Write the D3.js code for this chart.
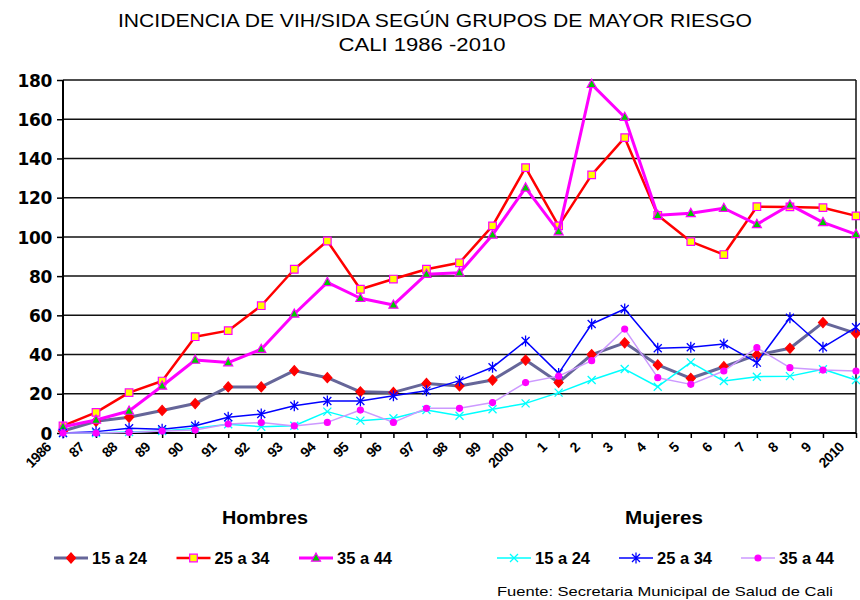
<!DOCTYPE html>
<html>
<head>
<meta charset="utf-8">
<script src="https://cdn.jsdelivr.net/npm/d3@7"></script>
<style>
  body { margin: 0; background: #fff; }
  text { font-family: "Liberation Sans", Arial, sans-serif; }
</style>
</head>
<body>
<div id="chart"></div>
<script>
var width = 860,
	height = 600;
var margin = {
  top: 80,
  right: 4,
  bottom: 167,
  left: 63
};
var plotW = width - margin.left - margin.right,
	plotH = height - margin.top - margin.bottom;

///////////////////////////////////////////////////////////////////////////
//////////////////////////////// The data /////////////////////////////////
///////////////////////////////////////////////////////////////////////////

var years = [1986,1987,1988,1989,1990,1991,1992,1993,1994,1995,1996,1997,1998,
	1999,2000,2001,2002,2003,2004,2005,2006,2007,2008,2009,2010];
var yearLabels = ["1986","87","88","89","90","91","92","93","94","95","96","97","98",
	"99","2000","1","2","3","4","5","6","7","8","9","2010"];
var yTicks = [0,20,40,60,80,100,120,140,160,180];

//Hombres
var hombres15 = [1,6,8,11.5,15,23.5,23.5,31.8,28.2,21,20.7,25.3,24,27,37.2,25.8,40,46,34.7,27.9,33.8,39.8,43.2,56.3,50.8];
var hombres25 = [3.6,10.5,20.6,26.5,49.1,52.2,64.9,83.5,97.9,73.3,78.5,83.5,86.8,105.6,135.3,105.6,131.6,150.6,111,97.6,91,115.4,115.3,114.9,110.7];
var hombres35 = [3.2,6.6,11.2,24,37.2,35.9,42.7,60.7,76.8,68.7,65.3,81,81.7,101,125,102.7,177.8,161,111,112,114.6,106.4,116.3,107.4,101.3];
//Mujeres
var mujeres15 = [0,0,0.5,1,2.4,4.5,3.2,3.7,10.9,6.3,7.5,11.7,8.8,12.1,15.1,20.6,27,32.6,23.6,36,26.5,28.7,29,32.5,27];
var mujeres25 = [0,0.7,2.4,1.9,3.7,8,9.7,13.9,16.3,16.3,19,21.6,26.7,33.5,46.9,30.4,55.6,63.2,43.2,43.7,45.4,35.9,58.8,43.7,53.9];
var mujeres35 = [0,0,0.3,1,1.5,4.6,5.3,3.6,5.4,11.7,5.4,12.6,12.6,15.5,25.7,29,36.9,53,28.2,24.8,31.6,43.5,33.3,32.1,31.6];

var ageLabels = ["15 a 24", "25 a 34", "35 a 44"];

var series = [
	{group: "Hombres", label: ageLabels[0], values: hombres15, stroke: "#666699", sw: 3,   marker: "diamond",  fill: "#ff0000", mstroke: "#ff0000"},
	{group: "Hombres", label: ageLabels[1], values: hombres25, stroke: "#ff0000", sw: 2.5, marker: "square",   fill: "#ffff00", mstroke: "#ff00ff"},
	{group: "Hombres", label: ageLabels[2], values: hombres35, stroke: "#ff00ff", sw: 3,   marker: "triangle", fill: "#00cc00", mstroke: "#ff00ff"},
	{group: "Mujeres", label: ageLabels[0], values: mujeres15, stroke: "#00ffff", sw: 1.5, marker: "x",        fill: "none",    mstroke: "#00ffff"},
	{group: "Mujeres", label: ageLabels[1], values: mujeres25, stroke: "#0000ff", sw: 1.5, marker: "star",     fill: "none",    mstroke: "#0000ff"},
	{group: "Mujeres", label: ageLabels[2], values: mujeres35, stroke: "#cc99ff", sw: 1.5, marker: "circle",   fill: "#ff00ff", mstroke: "#ff00ff"}
];

///////////////////////////////////////////////////////////////////////////
///////////////////////////////// Set up //////////////////////////////////
///////////////////////////////////////////////////////////////////////////

var svg = d3.select("#chart").append("svg")
	.attr("width", width)
	.attr("height", height);

var g = svg.append("g")
	.attr("transform", "translate(" + margin.left + "," + margin.top + ")");

var xScale = d3.scalePoint()
	.domain(years)
	.range([0, plotW]);
var yScale = d3.scaleLinear()
	.domain([0, 180])
	.range([plotH, 0]);

//Titles
svg.append("text")
	.attr("x", 435).attr("y", 27)
	.attr("text-anchor", "middle")
	.attr("textLength", 634).attr("lengthAdjust", "spacingAndGlyphs")
	.style("font-size", "18px")
	.text("INCIDENCIA DE VIH/SIDA SEGÚN GRUPOS DE MAYOR RIESGO");
svg.append("text")
	.attr("x", 422).attr("y", 51)
	.attr("text-anchor", "middle")
	.attr("textLength", 167).attr("lengthAdjust", "spacingAndGlyphs")
	.style("font-size", "18px")
	.text("CALI 1986 -2010");

///////////////////////////////////////////////////////////////////////////
///////////////////////////// Grid and axes ///////////////////////////////
///////////////////////////////////////////////////////////////////////////

g.selectAll(".grid")
	.data(yTicks.slice(1))
	.enter().append("line")
	.attr("class", "grid")
	.attr("x1", 0).attr("x2", plotW)
	.attr("y1", function(d) { return yScale(d); })
	.attr("y2", function(d) { return yScale(d); })
	.style("stroke", "#111")
	.style("stroke-width", 1.5);

//right border
g.append("line")
	.attr("x1", plotW).attr("x2", plotW)
	.attr("y1", 0).attr("y2", plotH)
	.style("stroke", "#111")
	.style("stroke-width", 1.5);

var yAxis = g.append("g")
	.call(d3.axisLeft(yScale).tickValues(yTicks).tickSize(6).tickPadding(5));
yAxis.select(".domain").attr("stroke-width", 2).attr("d", "M0," + plotH + "V0");
yAxis.selectAll(".tick line").attr("stroke-width", 1.5);
yAxis.selectAll(".tick text")
	.attr("dy", "0.36em")
	.style("font-family", "'DejaVu Sans', sans-serif")
	.style("font-weight", "bold")
	.style("font-size", "17px")
	.style("letter-spacing", "-0.3px")
	.style("fill", "#000");

var xAxis = g.append("g")
	.attr("transform", "translate(0," + plotH + ")")
	.call(d3.axisBottom(xScale).tickSize(5).tickFormat(""));
xAxis.select(".domain").attr("stroke-width", 2).attr("d", "M0,0H" + plotW);
xAxis.selectAll(".tick line").attr("stroke-width", 1.5);
xAxis.selectAll(".tick text").remove();

//Rotated year labels, rotation done with CSS
xAxis.selectAll(".year-label")
	.data(years)
	.enter().append("text")
	.attr("class", "year-label")
	.attr("x", 0).attr("y", 0)
	.attr("text-anchor", "end")
	.style("transform", function(d) { return "translate(" + (xScale(d) - 11) + "px,15px) rotate(-45deg)"; })
	.style("font-weight", "bold")
	.style("font-size", "14px")
	.style("letter-spacing", "-0.5px")
	.style("fill", "#000")
	.text(function(d, i) { return yearLabels[i]; });

///////////////////////////////////////////////////////////////////////////
//////////////////////////////// Markers //////////////////////////////////
///////////////////////////////////////////////////////////////////////////

function markerPath(type) {
	if (type === "diamond") return "M0,-5L4.5,0L0,5L-4.5,0Z";
	if (type === "square") return "M-3.8,-3.8H3.8V3.8H-3.8Z";
	if (type === "triangle") return "M0,-5L4.5,3.2H-4.5Z";
	if (type === "circle") return d3.symbol(d3.symbolCircle, 28)();
	if (type === "x") return "M-4,-4L4,4M-4,4L4,-4";
	//asterisk
	return "M-4,-4L4,4M-4,4L4,-4M0,-5.5V5.5";
}

function addMarker(sel, s) {
	sel.append("path")
		.attr("d", markerPath(s.marker))
		.style("fill", s.fill)
		.style("stroke", s.mstroke)
		.style("stroke-width", s.marker === "x" || s.marker === "star" ? 1.3 : 1.2);
}

///////////////////////////////////////////////////////////////////////////
///////////////////////////////// Lines ///////////////////////////////////
///////////////////////////////////////////////////////////////////////////

var line = d3.line()
	.x(function(d, i) { return xScale(years[i]); })
	.y(function(d) { return yScale(d); });

series.forEach(function(s) {
	var sg = g.append("g").attr("class", "series");
	sg.append("path")
		.attr("d", line(s.values))
		.style("fill", "none")
		.style("stroke", s.stroke)
		.style("stroke-width", s.sw)
		.style("stroke-linejoin", "round");
	sg.selectAll(".pt")
		.data(s.values)
		.enter().append("g")
		.attr("class", "pt")
		.attr("transform", function(d, i) { return "translate(" + xScale(years[i]) + "," + yScale(d) + ")"; })
		.each(function() { addMarker(d3.select(this), s); });
});

///////////////////////////////////////////////////////////////////////////
///////////////////////////////// Legend //////////////////////////////////
///////////////////////////////////////////////////////////////////////////

var groupPos = {Hombres: {title: 265, start: 54, step: 122.5}, Mujeres: {title: 664, start: 497, step: 122}};

svg.append("text")
	.attr("x", groupPos.Hombres.title).attr("y", 524)
	.attr("text-anchor", "middle")
	.attr("textLength", 86).attr("lengthAdjust", "spacingAndGlyphs")
	.style("font-weight", "bold").style("font-size", "18px")
	.text("Hombres");
svg.append("text")
	.attr("x", groupPos.Mujeres.title).attr("y", 524)
	.attr("text-anchor", "middle")
	.attr("textLength", 78).attr("lengthAdjust", "spacingAndGlyphs")
	.style("font-weight", "bold").style("font-size", "18px")
	.text("Mujeres");

series.forEach(function(s, i) {
	var k = i % 3;
	var x0 = groupPos[s.group].start + k * groupPos[s.group].step;
	var lg = svg.append("g").attr("transform", "translate(" + x0 + ",558)");
	lg.append("line")
		.attr("x1", 0).attr("x2", 34)
		.style("stroke", s.stroke)
		.style("stroke-width", s.sw);
	var mg = lg.append("g").attr("transform", "translate(17,0)");
	addMarker(mg, s);
	lg.append("text")
		.attr("x", 38).attr("y", 5.5)
		.attr("textLength", 55).attr("lengthAdjust", "spacingAndGlyphs")
		.style("font-weight", "bold").style("font-size", "16px")
		.text(s.label);
});

svg.append("text")
	.attr("x", 497).attr("y", 596)
	.attr("textLength", 336).attr("lengthAdjust", "spacingAndGlyphs")
	.style("font-size", "13.5px")
	.text("Fuente: Secretaria Municipal de Salud de Cali");
</script>
</body>
</html>
